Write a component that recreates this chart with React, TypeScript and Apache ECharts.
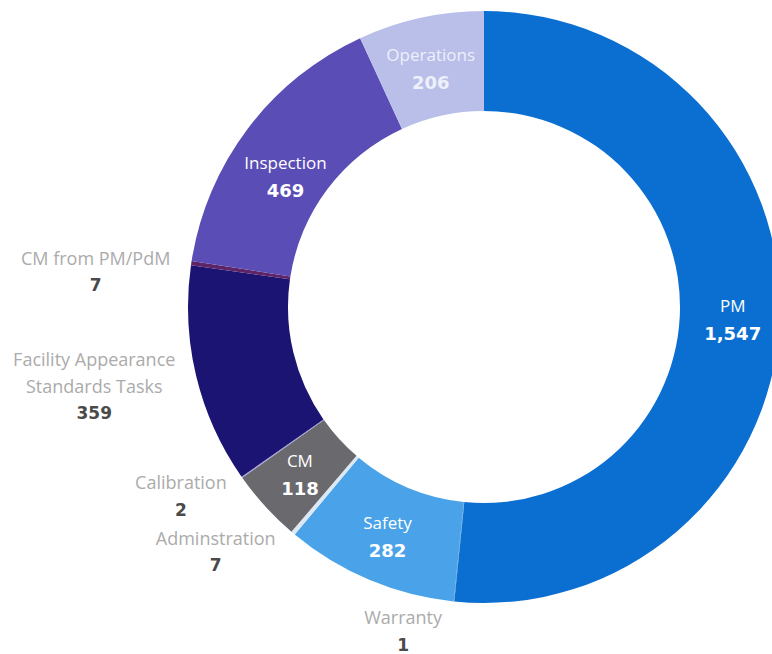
import React, { useEffect, useRef } from "react";
import * as echarts from "echarts";

const categories = [
  "PM",
  "Warranty",
  "Safety",
  "Adminstration",
  "CM",
  "Calibration",
  "Facility Appearance Standards Tasks",
  "CM from PM/PdM",
  "Inspection",
  "Operations",
];
const values = [1547, 1, 282, 7, 118, 2, 359, 7, 469, 206];
const colors = [
  "#0b6fd2",
  "#3a86d8",
  "#4aa3e8",
  "#dce8f4",
  "#6a6a6e",
  "#a29cd6",
  "#1b1472",
  "#5e2468",
  "#5a4db6",
  "#b9bfe9",
];
const insideLabels = ["PM", "Safety", "CM", "Inspection", "Operations"];

const fmt = (v: number) => v.toLocaleString("en-US");

export default function App() {
  const ref = useRef<HTMLDivElement>(null);
  useEffect(() => {
    if (!ref.current) return;
    const chart = echarts.init(ref.current, null, { renderer: "svg" });
    const data = categories.map((name, i) => {
      const inside = insideLabels.includes(name);
      const nameColor = name === "Operations" ? "#eef0fb" : "#ffffff";
      return {
        name,
        value: values[i],
        itemStyle: { color: colors[i] },
        label: inside
          ? {
              position: "inside",
              rich: {
                n: { fontFamily: "Open Sans", fontSize: 17, color: nameColor, lineHeight: 28 },
                v: { fontFamily: "DejaVu Sans", fontWeight: "bold", fontSize: 18, color: nameColor, lineHeight: 28 },
              },
            }
          : {
              position: "outside",
              rich: {
                n: { fontFamily: "Open Sans", fontSize: 18, color: "#ababab", lineHeight: 27, align: "center" },
                v: { fontFamily: "DejaVu Sans", fontWeight: "bold", fontSize: 17, color: "#4a4a4a", lineHeight: 28, align: "center" },
              },
            },
      };
    });
    // label nudges (layout only)
    const nudge = (name: string) => {
      switch (name) {
        case "Warranty":
          return { dx: 0, dy: 20 };
        case "Inspection":
          return { dx: 0, dy: 20 };
        case "Operations":
          return { dx: 0, dy: 5 };
        case "Facility Appearance Standards Tasks":
          return { dx: 0, dy: 8 };
        case "CM from PM/PdM":
          return { dx: 0, dy: 10 };
        case "Calibration":
          return { dx: 4, dy: 13 };
        case "Adminstration":
          return { dx: 0, dy: 11 };
        default:
          return { dx: 0, dy: 0 };
      }
    };
    chart.setOption({
      animation: false,
      backgroundColor: "#ffffff",
      series: [
        {
          type: "pie",
          center: [484, 307],
          radius: [196, 296],
          startAngle: 90,
          clockwise: true,
          avoidLabelOverlap: false,
          minShowLabelAngle: 0,
          labelLine: { show: false, length: 10, length2: 6 },
          labelLayout: (p: any) => nudge(categories[p.dataIndex]),
          label: {
            show: true,
            formatter: (p: any) => {
              const nm = String(p.name).replace(" Standards", "\nStandards");
              const lines = nm.split("\n").map((s: string) => `{n|${s}}`);
              return lines.join("\n") + `\n{v|${fmt(p.value)}}`;
            },
          },
          emphasis: { disabled: true },
          data,
        },
      ],
    });
    return () => chart.dispose();
  }, []);
  return (
    <div
      ref={ref}
      style={{ position: "fixed", left: 0, top: 0, width: 772, height: 654 }}
    />
  );
}
